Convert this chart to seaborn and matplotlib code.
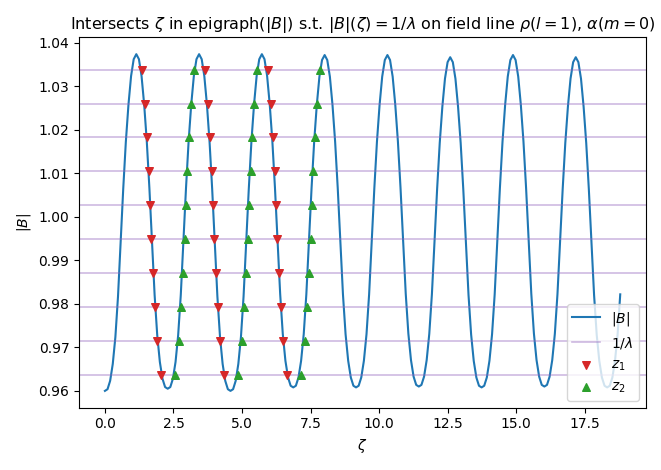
import matplotlib
matplotlib.use("Agg")
import matplotlib.pyplot as plt
import numpy as np
import seaborn as sns

# one well of |B|: normalised shape over one period
# (0 = minimum, 1 = maximum), minima are wider than the maxima
profile = [0.0, 0.005, 0.03, 0.08, 0.16, 0.28, 0.44, 0.60, 0.74, 0.85, 0.935, 0.985,
           1.0, 0.985, 0.935, 0.85, 0.74, 0.60, 0.44, 0.28, 0.16, 0.08, 0.03, 0.005]
# extrema of each period
B_min = [0.9600, 0.9605, 0.9600, 0.9608, 0.9608, 0.9610, 0.9608, 0.9610, 0.9608, 0.9608]
B_max = [1.0374, 1.0374, 1.0374, 1.0372, 1.0372, 1.0367, 1.0372, 1.0367, 1.0372]
zeta_step = 0.0954
n_points = 198

# bounce levels 1/lambda
levels = [0.9636, 0.9714, 0.9792, 0.9870, 0.9950, 1.0028, 1.0105, 1.0183, 1.0260, 1.0338]

# intersections, per well, ordered like levels (low -> high)
z1_wells = [
    [2.05, 1.90, 1.82, 1.75, 1.69, 1.64, 1.59, 1.53, 1.46, 1.34],
    [4.35, 4.20, 4.12, 4.05, 3.99, 3.94, 3.89, 3.83, 3.76, 3.64],
    [6.64, 6.50, 6.42, 6.35, 6.29, 6.24, 6.19, 6.13, 6.06, 5.94],
]
z2_wells = [
    [2.55, 2.70, 2.78, 2.85, 2.91, 2.96, 3.01, 3.07, 3.14, 3.26],
    [4.85, 5.00, 5.08, 5.15, 5.21, 5.26, 5.31, 5.37, 5.44, 5.56],
    [7.14, 7.29, 7.37, 7.44, 7.50, 7.55, 7.60, 7.66, 7.73, 7.85],
]

B_vals = []
for k in range(n_points):
    per, i = divmod(k, len(profile))
    lo = B_min[per] if i <= 12 else B_min[per + 1]
    B_vals.append(lo + profile[i] * (B_max[per] - lo))
zeta = np.arange(n_points) * zeta_step

fig, ax = plt.subplots(figsize=(6.61, 4.70), dpi=100)
sns.lineplot(x=zeta, y=B_vals, ax=ax, color="tab:blue", label=r"$|B|$")
for i, lv in enumerate(levels):
    ax.axhline(lv, color="tab:purple", alpha=0.45, lw=1.2, label=r"$1/\lambda$" if i == 0 else None)

z1x = np.concatenate(z1_wells)
z2x = np.concatenate(z2_wells)
lvl_rep = np.tile(levels, len(z1_wells))
ax.scatter(z1x, lvl_rep, marker="v", color="tab:red", s=30, zorder=3, label=r"$z_1$")
ax.scatter(z2x, lvl_rep, marker="^", color="tab:green", s=30, zorder=3, label=r"$z_2$")

ax.set_xlabel(r"$\zeta$")
ax.set_ylabel(r"$|B|$")
ax.set_title(r"Intersects $\zeta$ in epigraph($|B|$) s.t. $|B|(\zeta) = 1/\lambda$ on field line $\rho(l=1)$, $\alpha(m=0)$",
             fontsize=11.5)
ax.legend(loc="lower right")
plt.tight_layout()
plt.savefig("out.png", dpi=100)
